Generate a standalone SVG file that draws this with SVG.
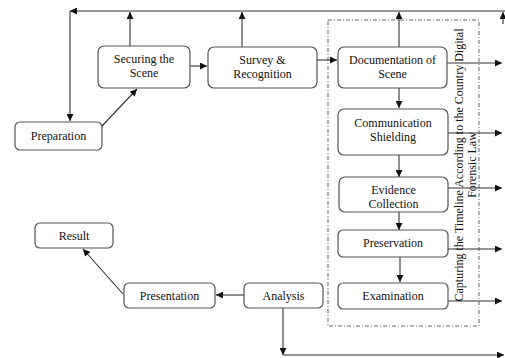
<svg xmlns="http://www.w3.org/2000/svg" width="505" height="358" viewBox="0 0 505 358">
<style>
.box{fill:#fff;stroke:#555;stroke-width:1.2}
.lbl{font-family:"Liberation Serif",serif;font-size:12px;fill:#111;text-anchor:middle}
.con{fill:none;stroke:#333;stroke-width:1.1}
.frame{fill:none;stroke:#666;stroke-width:1;stroke-dasharray:4 2 1 2}
</style>
<defs>
<marker id="ah" viewBox="0 0 10 10" refX="10" refY="5" markerWidth="8" markerHeight="7" markerUnits="userSpaceOnUse" orient="auto">
<path d="M0,0 L10,5 L0,10 z" fill="#111"/>
</marker>
</defs>
<rect class="frame" x="328" y="20" width="151" height="306"/>
<g id="connectors">
<path class="con" d="M505,11 H70" marker-end="url(#ah)"/>
<path class="con" d="M70,11 V121" marker-end="url(#ah)"/>
<path class="con" d="M503,24 V12" marker-end="url(#ah)"/>
<path class="con" d="M130,46 V12" marker-end="url(#ah)"/>
<path class="con" d="M242,47 V12" marker-end="url(#ah)"/>
<path class="con" d="M399,47 V12" marker-end="url(#ah)"/>
<path class="con" d="M102,126 L137,89" marker-end="url(#ah)"/>
<path class="con" d="M190,66 H207" marker-end="url(#ah)"/>
<path class="con" d="M317,60 H337" marker-end="url(#ah)"/>
<path class="con" d="M399,88 V108" marker-end="url(#ah)"/>
<path class="con" d="M399,155 V177" marker-end="url(#ah)"/>
<path class="con" d="M399,212 V230" marker-end="url(#ah)"/>
<path class="con" d="M400,257 V282" marker-end="url(#ah)"/>
<path class="con" d="M447,63 H502" marker-end="url(#ah)"/>
<path class="con" d="M448,133 H502" marker-end="url(#ah)"/>
<path class="con" d="M448,188 H502" marker-end="url(#ah)"/>
<path class="con" d="M448,249 H502" marker-end="url(#ah)"/>
<path class="con" d="M448,301 H502" marker-end="url(#ah)"/>
<path class="con" d="M244,295 H216" marker-end="url(#ah)"/>
<path class="con" d="M123,294 L83,249" marker-end="url(#ah)"/>
<path class="con" d="M283,308 V355" marker-end="url(#ah)"/>
<path class="con" d="M283,355 H504" marker-end="url(#ah)"/>
</g>
<g id="preparation"><rect class="box" x="15" y="122" width="87" height="28" rx="5"/><text class="lbl" x="58.5" y="140">Preparation</text></g>
<g id="securing"><rect class="box" x="98" y="46" width="92" height="42" rx="6"/><text class="lbl" x="144" y="63">Securing the</text><text class="lbl" x="144" y="77">Scene</text></g>
<g id="survey"><rect class="box" x="208" y="47" width="109" height="41" rx="6"/><text class="lbl" x="262.5" y="64">Survey &amp;</text><text class="lbl" x="262.5" y="78">Recognition</text></g>
<g id="documentation"><rect class="box" x="338" y="47" width="109" height="41" rx="6"/><text class="lbl" x="392.5" y="64">Documentation of</text><text class="lbl" x="392.5" y="78">Scene</text></g>
<g id="communication"><rect class="box" x="338" y="109" width="110" height="46" rx="6"/><text class="lbl" x="393" y="127">Communication</text><text class="lbl" x="393" y="141">Shielding</text></g>
<g id="evidence"><rect class="box" x="339" y="177" width="109" height="35" rx="6"/><text class="lbl" x="393.5" y="194">Evidence</text><text class="lbl" x="393.5" y="208">Collection</text></g>
<g id="preservation"><rect class="box" x="338" y="230" width="110" height="27" rx="5"/><text class="lbl" x="393" y="247">Preservation</text></g>
<g id="examination"><rect class="box" x="338" y="283" width="110" height="26" rx="5"/><text class="lbl" x="393" y="300">Examination</text></g>
<g id="analysis"><rect class="box" x="244" y="283" width="79" height="25" rx="5"/><text class="lbl" x="283.5" y="300">Analysis</text></g>
<g id="presentation"><rect class="box" x="124" y="283" width="91" height="25" rx="5"/><text class="lbl" x="169.5" y="300">Presentation</text></g>
<g id="result"><rect class="box" x="35" y="223" width="78" height="25" rx="5"/><text class="lbl" x="74" y="240">Result</text></g>
<g id="timeline-label">
<text class="lbl" transform="translate(463,165) rotate(-90)">Capturing the Timeline According to the Country Digital</text>
<text class="lbl" transform="translate(476,165) rotate(-90)">Forensic Law</text>
</g>
</svg>
